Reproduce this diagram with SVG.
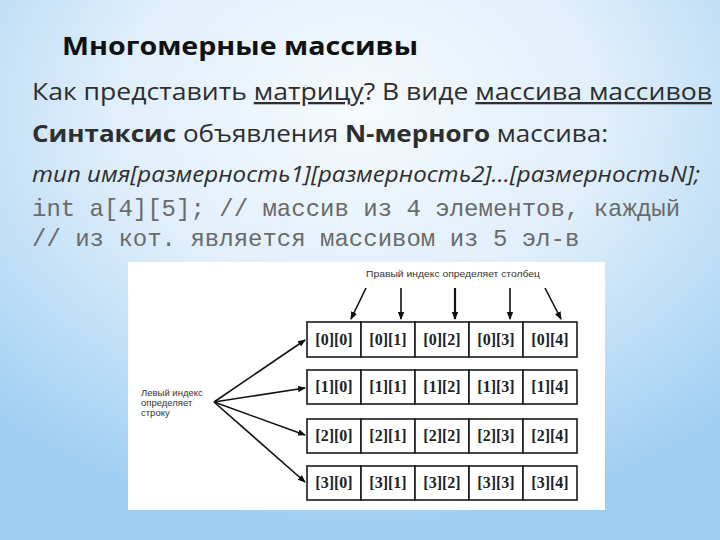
<svg xmlns="http://www.w3.org/2000/svg" width="720" height="540" viewBox="0 0 720 540">
<defs>
<radialGradient id="bg" cx="0.5" cy="0.22" r="0.75" fx="0.5" fy="0.2">
<stop offset="0" stop-color="#f6fafd"/>
<stop offset="0.45" stop-color="#e0effb"/>
<stop offset="1" stop-color="#a0cef2"/>
</radialGradient>
<marker id="ah" markerWidth="8" markerHeight="8" refX="7" refY="4" orient="auto" markerUnits="userSpaceOnUse">
<path d="M0,0.8 L8,4 L0,7.2 Z" fill="#111"/>
</marker>
<style>
.t{font-family:"Open Sans","Liberation Sans",sans-serif;fill:#2e2e2e}
.mono{font-family:"Liberation Mono","DejaVu Sans Mono",monospace;font-size:24px;fill:#6a6a6a}
.cell{fill:#fff;stroke:#1a1a1a;stroke-width:1.6}
.idx{font-family:"Liberation Serif",serif;font-weight:bold;font-size:16px;fill:#222;text-anchor:middle}
.small{font-family:"Liberation Sans",sans-serif;font-size:9.5px;fill:#333}
.arr{stroke:#111;stroke-width:1.6;fill:none;marker-end:url(#ah)}
</style>
</defs>
<rect width="720" height="540" fill="url(#bg)"/>

<g id="texts">
<text x="62" y="55" class="t" font-size="25" font-weight="bold" style="fill:#111" textLength="356" lengthAdjust="spacingAndGlyphs">Многомерные массивы</text>
<text x="32" y="100" class="t" font-size="23" textLength="680" lengthAdjust="spacingAndGlyphs">Как представить <tspan text-decoration="underline">матрицу</tspan>? В виде <tspan text-decoration="underline">массива массивов</tspan></text>
<text x="32" y="142" class="t" font-size="23" textLength="576" lengthAdjust="spacingAndGlyphs"><tspan font-weight="bold">Синтаксис</tspan> объявления <tspan font-weight="bold">N-мерного</tspan> массива:</text>
<text x="32" y="182" class="t" font-size="22" font-style="italic" textLength="668" lengthAdjust="spacingAndGlyphs">тип имя[размерность1][размерность2]…[размерностьN];</text>
<text x="32" y="216" class="mono">int a[4][5]; // массив из 4 элементов, каждый</text>
<text x="32" y="246" class="mono">// из кот. является массивом из 5 эл-в</text>
</g>

<rect x="128" y="262" width="477" height="248" fill="#fff"/>

<g id="labels">
<text x="366" y="277" class="small" textLength="174" lengthAdjust="spacingAndGlyphs">Правый индекс определяет столбец</text>
<text x="141" y="396" class="small">Левый индекс</text>
<text x="141" y="406" class="small">определяет</text>
<text x="141" y="416" class="small">строку</text>
</g>

<g id="row0">
<rect class="cell" x="307" y="322" width="54" height="35"/><rect class="cell" x="361" y="322" width="54" height="35"/><rect class="cell" x="415" y="322" width="54" height="35"/><rect class="cell" x="469" y="322" width="54" height="35"/><rect class="cell" x="523" y="322" width="54" height="35"/>
<text class="idx" x="334" y="345">[0][0]</text><text class="idx" x="388" y="345">[0][1]</text><text class="idx" x="442" y="345">[0][2]</text><text class="idx" x="496" y="345">[0][3]</text><text class="idx" x="550" y="345">[0][4]</text>
</g>
<g id="row1">
<rect class="cell" x="307" y="370" width="54" height="34"/><rect class="cell" x="361" y="370" width="54" height="34"/><rect class="cell" x="415" y="370" width="54" height="34"/><rect class="cell" x="469" y="370" width="54" height="34"/><rect class="cell" x="523" y="370" width="54" height="34"/>
<text class="idx" x="334" y="392">[1][0]</text><text class="idx" x="388" y="392">[1][1]</text><text class="idx" x="442" y="392">[1][2]</text><text class="idx" x="496" y="392">[1][3]</text><text class="idx" x="550" y="392">[1][4]</text>
</g>
<g id="row2">
<rect class="cell" x="307" y="419" width="54" height="34"/><rect class="cell" x="361" y="419" width="54" height="34"/><rect class="cell" x="415" y="419" width="54" height="34"/><rect class="cell" x="469" y="419" width="54" height="34"/><rect class="cell" x="523" y="419" width="54" height="34"/>
<text class="idx" x="334" y="441">[2][0]</text><text class="idx" x="388" y="441">[2][1]</text><text class="idx" x="442" y="441">[2][2]</text><text class="idx" x="496" y="441">[2][3]</text><text class="idx" x="550" y="441">[2][4]</text>
</g>
<g id="row3">
<rect class="cell" x="307" y="466" width="54" height="34"/><rect class="cell" x="361" y="466" width="54" height="34"/><rect class="cell" x="415" y="466" width="54" height="34"/><rect class="cell" x="469" y="466" width="54" height="34"/><rect class="cell" x="523" y="466" width="54" height="34"/>
<text class="idx" x="334" y="488">[3][0]</text><text class="idx" x="388" y="488">[3][1]</text><text class="idx" x="442" y="488">[3][2]</text><text class="idx" x="496" y="488">[3][3]</text><text class="idx" x="550" y="488">[3][4]</text>
</g>

<g id="connectors">
<line class="arr" x1="366" y1="288" x2="351" y2="319"/>
<line class="arr" x1="401" y1="288" x2="401" y2="319"/>
<line class="arr" x1="455" y1="288" x2="455" y2="319" style="stroke-width:2.2"/>
<line class="arr" x1="510" y1="288" x2="510" y2="319"/>
<line class="arr" x1="545" y1="288" x2="561" y2="319"/>
<line class="arr" x1="214" y1="402" x2="305" y2="340"/>
<line class="arr" x1="214" y1="402" x2="305" y2="388"/>
<line class="arr" x1="214" y1="402" x2="305" y2="435"/>
<line class="arr" x1="214" y1="402" x2="305" y2="482"/>
</g>
</svg>
